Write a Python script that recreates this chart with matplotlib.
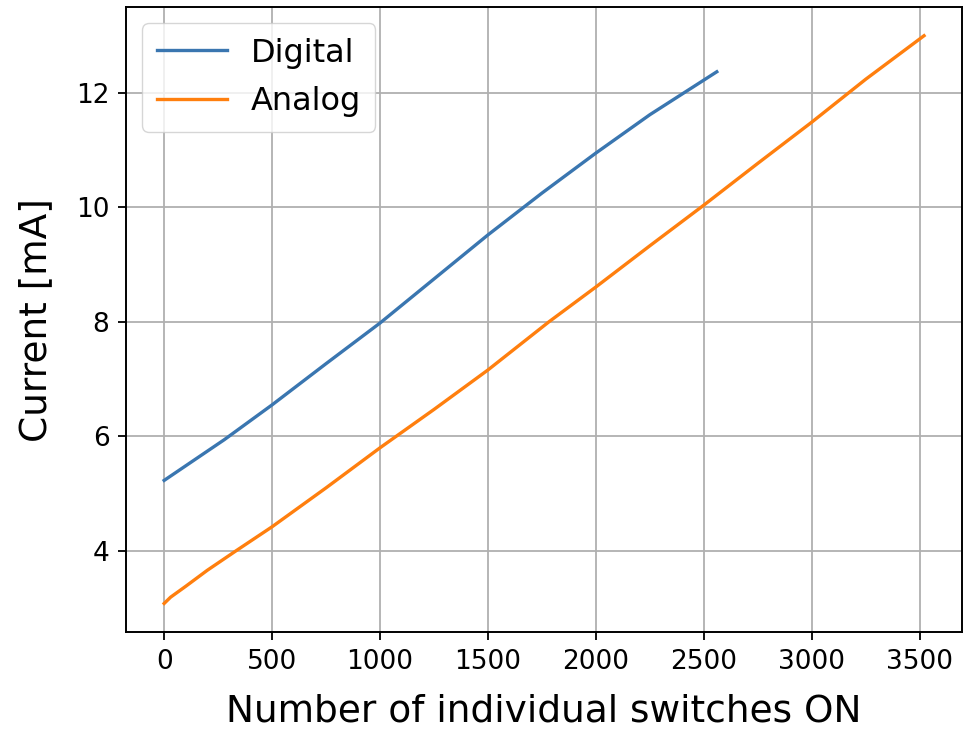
import matplotlib
matplotlib.use('Agg')
import matplotlib.pyplot as plt

# values
digital_x = [0, 278, 500, 750, 1000, 1250, 1500, 1750, 2000, 2250, 2560]
digital_y = [5.23, 5.94, 6.55, 7.27, 7.98, 8.75, 9.52, 10.25, 10.95, 11.62, 12.37]

analog_x = [0, 30, 100, 200, 333, 500, 750, 1000, 1250, 1500, 1782, 2000, 2250, 2500, 2750, 3000, 3250, 3520]
analog_y = [3.08, 3.19, 3.38, 3.66, 4.0, 4.42, 5.1, 5.8, 6.47, 7.16, 8.0, 8.61, 9.33, 10.04, 10.77, 11.49, 12.24, 13.0]

fig, ax = plt.subplots(figsize=(9.63, 7.33), dpi=100)
fig.subplots_adjust(left=0.131, right=0.999, top=0.99, bottom=0.138)

ax.plot(digital_x, digital_y, color='#3a76b0', lw=2.4, label='Digital')
ax.plot(analog_x, analog_y, color='#ff7f0e', lw=2.4, label='Analog')

ax.grid(True, color='#b0b0b0', lw=1.3)
ax.set_yticks([4, 6, 8, 10, 12])
ax.tick_params(labelsize=19, length=6, width=1.3, pad=6)
for s in ax.spines.values():
    s.set_linewidth(1.4)

ax.set_xlabel('Number of individual switches ON', fontsize=27, labelpad=14)
ax.set_ylabel('Current [mA]', fontsize=27, labelpad=16)
ax.legend(loc='upper left', fontsize=23, handlelength=2.2, borderpad=0.45,
          labelspacing=0.55, handletextpad=0.75)

fig.savefig('out.png')
